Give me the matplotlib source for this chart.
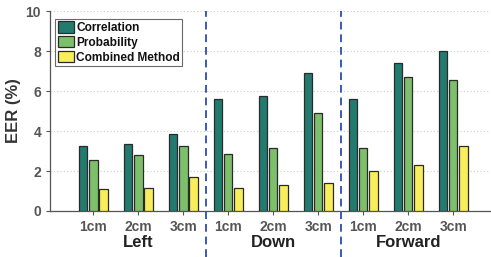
import numpy as np
import matplotlib.pyplot as plt

plt.rcParams['font.family'] = ['Liberation Sans', 'DejaVu Sans']
plt.rcParams['font.weight'] = 'bold'

directions = ['Left', 'Down', 'Forward']
distances = ['1cm', '2cm', '3cm']
correlation = [3.23, 3.35, 3.83, 5.6, 5.77, 6.92, 5.6, 7.42, 7.98]
probability = [2.53, 2.78, 3.23, 2.85, 3.13, 4.88, 3.15, 6.7, 6.55]
combined = [1.08, 1.15, 1.68, 1.13, 1.28, 1.42, 1.98, 2.28, 3.27]

series = [('Correlation', correlation, '#237b6f'),
          ('Probability', probability, '#7dbf6b'),
          ('Combined Method', combined, '#f8ee5c')]

fig = plt.figure(figsize=(4.91, 2.57), dpi=100)
ax = fig.add_axes([0.102, 0.179, 0.896, 0.778])

x = np.arange(1, len(correlation) + 1)
w = 0.19
off = 0.225
for i, (name, vals, col) in enumerate(series):
    ax.bar(x + (i - 1) * off, vals, width=w, color=col, edgecolor='#2a2a2a',
           linewidth=0.9, label=name, zorder=3)

# separators between movement directions
for xs in [3.5, 6.5]:
    ax.plot([xs, xs], [-2.3, 10], ls=(0, (4, 2.5)), color='#3a5bb5', lw=1.4,
            clip_on=False, zorder=4)

ax.set_xlim(0.04, 9.82)
ax.set_ylim(0, 10)
ax.set_yticks([0, 2, 4, 6, 8, 10])
ax.set_xticks(x)
ax.set_xticklabels(distances * 3)
ax.tick_params(axis='both', colors='#555555', labelcolor='#555555', labelsize=10,
               length=3, width=0.8, direction='out')
ax.grid(axis='y', ls=(0, (1, 2)), color='#cccccc', lw=0.8, zorder=0)
ax.spines['top'].set_visible(False)
ax.spines['right'].set_visible(False)
for s in ['left', 'bottom']:
    ax.spines[s].set_color('#555555')
    ax.spines[s].set_linewidth(0.9)

ax.set_ylabel('EER (%)', fontsize=12, fontweight='bold', color='#333333', labelpad=3)

for j, d in enumerate(directions):
    ax.text(2 + 3 * j, -1.6, d, ha='center', va='center', fontsize=12,
            fontweight='bold', color='#222222')

leg = ax.legend(loc='upper left', bbox_to_anchor=(0.012, 0.962), fontsize=8.6,
                frameon=True, fancybox=False, edgecolor='#444444',
                handlelength=1.35, handleheight=1.1, handletextpad=0.2,
                borderpad=0.2, labelspacing=0.18, borderaxespad=0.0)
leg.get_frame().set_linewidth(0.8)
for t in leg.get_texts():
    t.set_color('#111111')

fig.savefig('out.png', dpi=100)
